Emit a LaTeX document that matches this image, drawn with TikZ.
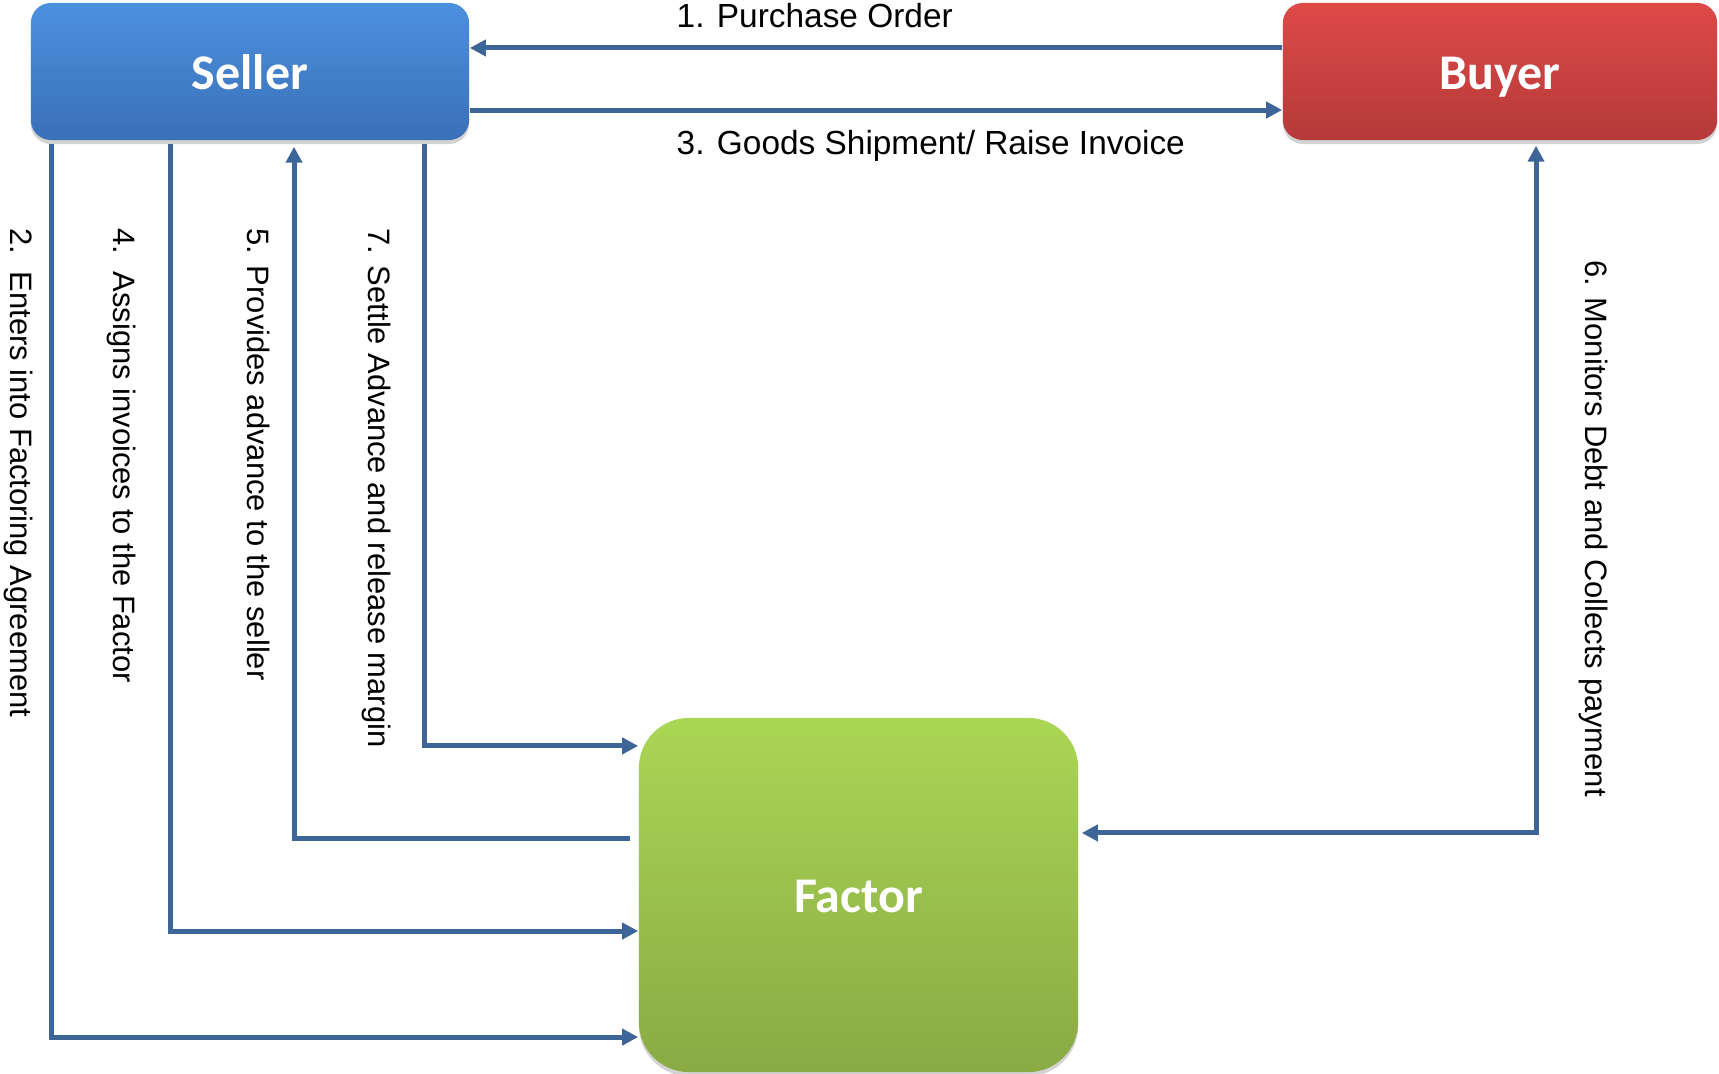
\documentclass[tikz,border=0pt]{standalone}
\usepackage{fontspec}
\setmainfont{Liberation Sans}
\newfontfamily\boxfont{Carlito}
\usetikzlibrary{arrows.meta,shadows}

\definecolor{linkblue}{RGB}{62,101,152}
\definecolor{sellertop}{RGB}{76,144,222}
\definecolor{sellerbot}{RGB}{58,112,184}
\definecolor{buyertop}{RGB}{222,74,72}
\definecolor{buyerbot}{RGB}{180,58,57}
\definecolor{factortop}{RGB}{170,214,85}
\definecolor{factorbot}{RGB}{138,170,68}

\begin{document}
\begin{tikzpicture}[x=0.01cm,y=-0.01cm,
    party/.style={rectangle,minimum width=4.38cm,minimum height=1.37cm,rounded corners=0.2cm,
      text=white,font=\boxfont\bfseries\fontsize{14.2}{17}\selectfont,text height=2.4ex,text depth=0.5ex,
      drop shadow={shadow xshift=0pt,shadow yshift=-0.04cm,opacity=0.35}},
    flow/.style={draw=linkblue,line width=0.05cm,-{Triangle[length=0.16cm,width=0.16cm]}},
    vlabel/.style={rotate=-90,anchor=west,inner sep=0pt,font=\fontsize{8.8}{10}\selectfont},
    hlabel/.style={anchor=west,inner sep=0pt,font=\fontsize{9.5}{11}\selectfont}]
\useasboundingbox (0,0) rectangle (1719,1074);

% the three parties
\node[party,top color=sellertop,bottom color=sellerbot] (seller) at (250,71.5) {Seller};
\node[party,minimum width=4.34cm,top color=buyertop,bottom color=buyerbot] (buyer) at (1500,71.5) {Buyer};
\node[party,minimum width=4.39cm,minimum height=3.54cm,rounded corners=0.5cm,
      top color=factortop,bottom color=factorbot] (factor) at (858.5,895) {Factor};

% seller <-> buyer
\draw[flow] ([yshift=0.235cm]buyer.west) -- ([yshift=0.235cm]seller.east);
\draw[flow] ([yshift=-0.385cm]seller.east) -- ([yshift=-0.385cm]buyer.west);
\node[hlabel] (po) at (676,16) {1. Purchase Order};
\node[hlabel] (ship) at (676,146) {3. Goods Shipment/ Raise Invoice};

% seller <-> factor
\draw[flow] ([xshift=-1.98cm,yshift=-0.03cm]seller.south) |- ([yshift=-1.42cm]factor.west);
\draw[flow] ([xshift=-0.79cm,yshift=-0.03cm]seller.south) |- ([yshift=-0.36cm]factor.west);
\draw[flow] ([xshift=-0.08cm,yshift=0.56cm]factor.west) -| ([xshift=0.44cm,yshift=-0.06cm]seller.south);
\draw[flow] ([xshift=1.74cm,yshift=-0.03cm]seller.south) |- ([yshift=1.49cm]factor.west);
\node[vlabel] (agree) at (19,228) {2.\ \ Enters into Factoring Agreement};
\node[vlabel] (assign) at (122,228) {4.\ \ Assigns invoices to the Factor};
\node[vlabel] (advance) at (259,228) {5. Provides advance to the seller};
\node[vlabel] (settle) at (376,228) {7. Settle Advance and release margin};

% buyer <-> factor
\draw[flow,{Triangle[length=0.16cm,width=0.16cm]}-{Triangle[length=0.16cm,width=0.16cm]}]
  ([xshift=0.36cm,yshift=-0.05cm]buyer.south) |- ([xshift=0.03cm,yshift=0.62cm]factor.east);
\node[vlabel] (monitor) at (1593,260) {6. Monitors Debt and Collects payment};
\end{tikzpicture}
\end{document}
